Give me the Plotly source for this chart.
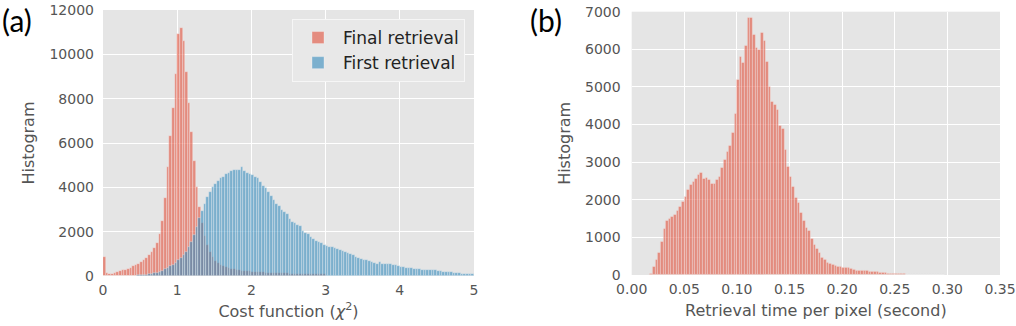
import numpy as np
import plotly.graph_objects as go

# (a) cost function histograms, 140 bins over 0..5
cost_bin_start = 0.0
cost_bin_width = 5 / 140
final_counts = [
    850, 120, 80, 100, 130, 170, 210, 250, 290, 330, 380, 430, 490, 560, 640, 720,
    820, 940, 1100, 1250, 1500, 1900, 2500, 3500, 4900, 6300, 7600, 9100, 10900, 11200,
    10600, 9200, 7800, 6500, 5200, 4000, 3100, 2400, 1800, 1400, 1080, 850, 690, 580,
    500, 440, 390, 350, 320, 300, 280, 260, 245, 230, 215, 205,
    195, 185, 178, 170, 163, 157, 150, 145, 140, 135, 130, 125, 120, 116, 112, 108,
    104, 100, 96, 92, 88, 85, 82, 78, 75, 72, 70, 68,
] + [0] * 56
first_counts = [
    0, 0, 0, 0, 0, 0, 0, 0, 0, 0, 0, 10, 20, 30, 40, 50, 60, 75, 95, 120,
    150, 190, 240, 300, 360, 430, 510, 600, 700, 820, 950, 1100, 1300, 1550, 1850, 2200,
    2600, 2950, 3250, 3550, 3800, 4000, 4150, 4280, 4400, 4480, 4580, 4660, 4720, 4760,
    4780, 4780, 4900, 4720, 4650, 4600, 4550, 4480, 4420, 4250, 4050, 3950, 3800, 3600,
    3450, 3250, 3150, 3000, 2900, 2780, 2580, 2450, 2380, 2290, 2250, 2050, 1950, 1880,
    1780, 1680, 1600, 1540, 1480, 1400, 1340, 1320, 1290, 1260, 1230, 1190, 1140, 1070,
    1030, 1000, 950, 870, 820, 780, 720, 700, 680, 620, 580, 560, 650, 540, 530, 530,
    520, 500, 480, 460, 420, 400, 380, 360, 340, 320, 310, 300, 280, 270, 270, 265,
    265, 260, 240, 215, 200, 195, 190, 170, 155, 150, 130, 110, 95, 90, 90, 85,
]

# (b) retrieval time histogram
time_bin_start = 0.0175
time_bin_width = 0.0025
time_counts = [
    30, 210, 400, 580, 890, 1220, 1450, 1490, 1550, 1610, 1710, 1820, 1940, 2090,
    2280, 2400, 2480, 2570, 2660, 2710, 2570, 2580, 2540, 2440, 2440, 2530, 2620, 2840,
    3060, 3280, 3450, 3790, 4300, 5200, 5800, 5650, 6100, 6850, 6850, 6400, 6050, 6000,
    6450, 6230, 5670, 5000, 4610, 4520, 4400, 3960, 3900, 3330, 2880, 2620, 2350, 2050,
    1920, 1660, 1450, 1260, 1170, 960, 800, 700, 600, 470, 400, 340, 300, 270, 250, 230,
    210, 190, 190, 185, 180, 130, 125, 120, 115, 110, 105, 90, 85, 80, 75, 55, 50, 50,
    45, 45, 40, 40, 35, 30, 30, 20, 20, 18, 18, 18, 15, 15, 15, 15, 12, 12, 12, 12, 10, 10,
]

cost_x = cost_bin_start + cost_bin_width * (np.arange(len(final_counts)) + 0.5)
time_x = time_bin_start + time_bin_width * (np.arange(len(time_counts)) + 0.5)

RED = "rgba(226,74,51,0.58)"
BLUE = "rgba(52,138,189,0.6)"
EDGE = "rgba(245,245,245,0.55)"
BG = "#E5E5E5"
TXT = "#555555"
FONT = "DejaVu Sans"

fig = go.Figure()
fig.add_trace(go.Bar(x=cost_x, y=final_counts, width=cost_bin_width, name="Final retrieval",
                     marker=dict(color=RED, line=dict(color=EDGE, width=0.6)),
                     xaxis="x", yaxis="y"))
fig.add_trace(go.Bar(x=cost_x, y=first_counts, width=cost_bin_width, name="First retrieval",
                     marker=dict(color=BLUE, line=dict(color=EDGE, width=0.6)),
                     xaxis="x", yaxis="y"))
fig.add_trace(go.Bar(x=time_x, y=time_counts, width=time_bin_width, showlegend=False,
                     marker=dict(color=RED, line=dict(color=EDGE, width=0.6)),
                     xaxis="x2", yaxis="y2"))

axis_common = dict(showgrid=True, gridcolor="white", gridwidth=1.3, zeroline=False,
                   showline=False, ticks="", tickformat="d", automargin=False,
                   tickfont=dict(family=FONT, size=14, color=TXT))
title_font = dict(family=FONT, size=16, color=TXT)

fig.update_layout(
    width=1016, height=326,
    margin=dict(l=0, r=0, t=0, b=0, autoexpand=False),
    paper_bgcolor="white",
    plot_bgcolor=BG,
    barmode="overlay",
    bargap=0,
    font=dict(family=FONT, color=TXT),
    xaxis=dict(domain=[103 / 1016, 474 / 1016], range=[0, 5], dtick=1, anchor="y",
               ticklabelstandoff=4,
               title=dict(text="Cost function (<i>χ</i><sup>2</sup>)", font=title_font, standoff=8),
               **axis_common),
    yaxis=dict(domain=[1 - 276 / 326, 1 - 10 / 326], range=[0, 12000], dtick=2000, anchor="x",
               ticklabelstandoff=8,
               title=dict(text="Histogram", font=title_font, standoff=10),
               **axis_common),
    xaxis2=dict(domain=[631.7 / 1016, 1000 / 1016], range=[0, 0.35], dtick=0.05,
                anchor="y2", ticklabelstandoff=4,
                title=dict(text="Retrieval time per pixel (second)", font=title_font, standoff=8),
                **{**axis_common, "tickformat": ".2f"}),
    yaxis2=dict(domain=[1 - 275 / 326, 1 - 11.7 / 326], range=[0, 7000], dtick=1000, anchor="x2",
                ticklabelstandoff=10,
                title=dict(text="Histogram", font=title_font, standoff=10),
                **axis_common),
    legend=dict(x=465 / 1016, y=1 - 19 / 326, xanchor="right", yanchor="top",
                bgcolor="#E8E8E8", bordercolor="#F6F6F6", borderwidth=1,
                font=dict(family=FONT, size=17, color="#222222"),
                itemwidth=40, tracegroupgap=4),
    annotations=[
        dict(text="(a)", x=0, y=1, xref="paper", yref="paper", xanchor="left",
             yanchor="top", showarrow=False, font=dict(family="Lato", size=30, color="black")),
        dict(text="(b)", x=528 / 1016, y=1, xref="paper", yref="paper", xanchor="left",
             yanchor="top", showarrow=False, font=dict(family="Lato", size=30, color="black")),
    ],
)

# the page body keeps its default 8px margin otherwise
fig.write_html("out.html", config={"displayModeBar": False},
               post_script="document.body.style.margin = '0';")
